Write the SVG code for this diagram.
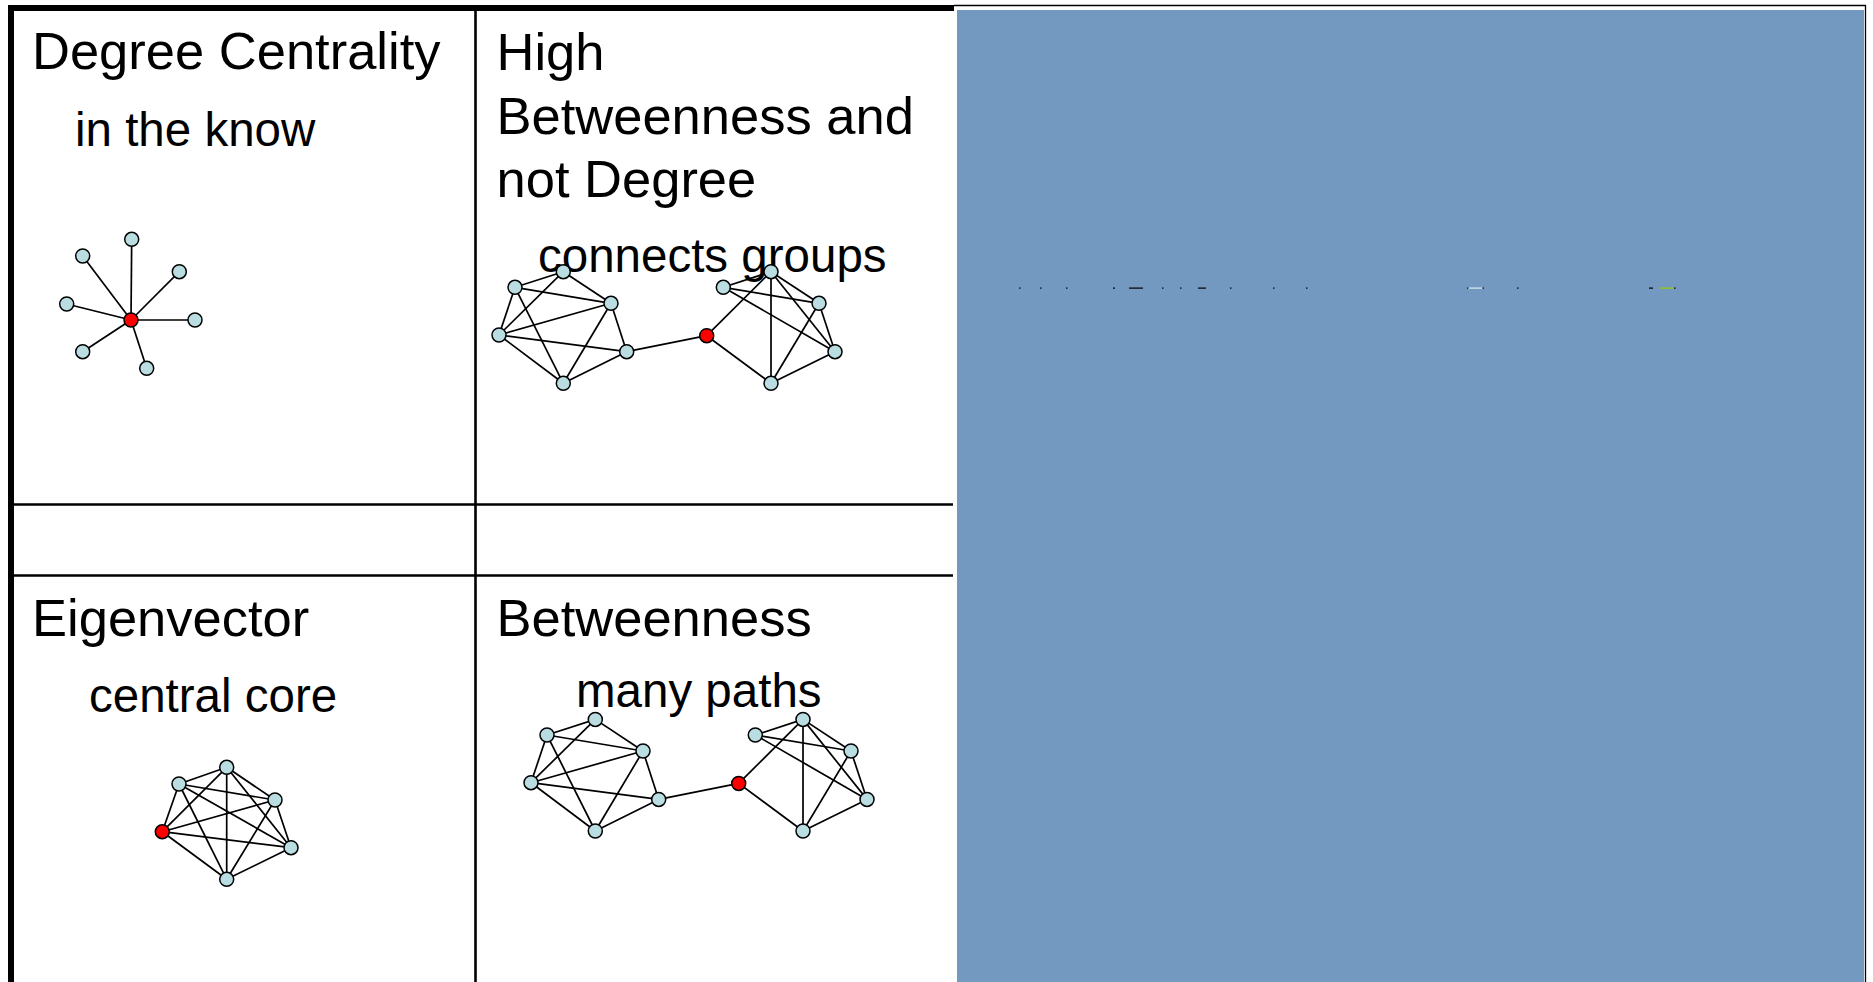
<svg xmlns="http://www.w3.org/2000/svg" xmlns:xlink="http://www.w3.org/1999/xlink" width="1873" height="982" viewBox="0 0 1873 982">
<style>
.t{font-family:"Liberation Sans",Arial,sans-serif;fill:#000}
.h{font-size:52.5px}
.s{font-size:47.5px}
.e{stroke:#000;stroke-width:1.7;fill:none}
.n{fill:#b9dde1;stroke:#000;stroke-width:1.5}
.r{fill:#ff0000;stroke:#000;stroke-width:1.5}
.g{stroke:#000;fill:none}
</style>
<defs>
<g id="twoGroups">
<g class="connectors">
<line class="e" x1="515" y1="287.3" x2="563.3" y2="271.7"/>
<line class="e" x1="515" y1="287.3" x2="611" y2="303.3"/>
<line class="e" x1="563.3" y1="271.7" x2="611" y2="303.3"/>
<line class="e" x1="563.3" y1="271.7" x2="499" y2="335"/>
<line class="e" x1="499" y1="335" x2="611" y2="303.3"/>
<line class="e" x1="515" y1="287.3" x2="499" y2="335"/>
<line class="e" x1="515" y1="287.3" x2="563.3" y2="383.3"/>
<line class="e" x1="499" y1="335" x2="626.7" y2="351.7"/>
<line class="e" x1="499" y1="335" x2="563.3" y2="383.3"/>
<line class="e" x1="611" y1="303.3" x2="563.3" y2="383.3"/>
<line class="e" x1="611" y1="303.3" x2="626.7" y2="351.7"/>
<line class="e" x1="626.7" y1="351.7" x2="563.3" y2="383.3"/>
<line class="e" x1="626.7" y1="351.7" x2="706.7" y2="335.7"/>
<line class="e" x1="706.7" y1="335.7" x2="771" y2="271.7"/>
<line class="e" x1="706.7" y1="335.7" x2="771" y2="383.3"/>
<line class="e" x1="723.3" y1="287.3" x2="771" y2="271.7"/>
<line class="e" x1="723.3" y1="287.3" x2="819" y2="303.3"/>
<line class="e" x1="723.3" y1="287.3" x2="835" y2="351.7"/>
<line class="e" x1="771" y1="271.7" x2="819" y2="303.3"/>
<line class="e" x1="771" y1="271.7" x2="835" y2="351.7"/>
<line class="e" x1="771" y1="271.7" x2="771" y2="383.3"/>
<line class="e" x1="819" y1="303.3" x2="771" y2="383.3"/>
<line class="e" x1="819" y1="303.3" x2="835" y2="351.7"/>
<line class="e" x1="835" y1="351.7" x2="771" y2="383.3"/>
</g>
<circle class="n" cx="563.3" cy="271.7" r="7"/>
<circle class="n" cx="515" cy="287.3" r="7"/>
<circle class="n" cx="611" cy="303.3" r="7"/>
<circle class="n" cx="499" cy="335" r="7"/>
<circle class="n" cx="626.7" cy="351.7" r="7"/>
<circle class="n" cx="563.3" cy="383.3" r="7"/>
<circle class="r" cx="706.7" cy="335.7" r="7"/>
<circle class="n" cx="771" cy="271.7" r="7"/>
<circle class="n" cx="723.3" cy="287.3" r="7"/>
<circle class="n" cx="819" cy="303.3" r="7"/>
<circle class="n" cx="835" cy="351.7" r="7"/>
<circle class="n" cx="771" cy="383.3" r="7"/>
</g>
</defs>

<rect width="1873" height="982" fill="#fff"/>

<!-- table grid -->
<g id="grid">
<line class="g" x1="8" y1="8" x2="954" y2="8" stroke-width="6"/>
<line class="g" x1="11" y1="5" x2="11" y2="982" stroke-width="6"/>
<line class="g" x1="475.5" y1="8" x2="475.5" y2="982" stroke-width="2.6"/>
<line class="g" x1="14" y1="504.5" x2="953" y2="504.5" stroke-width="2.6"/>
<line class="g" x1="14" y1="575.5" x2="953" y2="575.5" stroke-width="2.6"/>
</g>

<!-- right panel -->
<g id="panel">
<polyline points="954,5.5 1865.5,5.5 1865.5,982" fill="none" stroke="#000" stroke-width="1.3"/>
<rect x="957" y="10" width="907" height="972" fill="#7399c0"/>
<g id="fragments" fill="#000">
<rect x="1019" y="287.5" width="1.5" height="1.2"/>
<rect x="1040" y="287.5" width="1.5" height="1.2"/>
<rect x="1066" y="287.5" width="1.5" height="1.2"/>
<rect x="1113" y="287.5" width="2" height="1.2"/>
<rect x="1129" y="287.5" width="14" height="1.2"/>
<rect x="1162" y="287.5" width="1.5" height="1.2"/>
<rect x="1180" y="287.5" width="1.5" height="1.2"/>
<rect x="1198" y="287.5" width="8" height="1.2"/>
<rect x="1230" y="287.5" width="1.5" height="1.2"/>
<rect x="1273" y="287.5" width="1.5" height="1.2"/>
<rect x="1306" y="287.5" width="1.5" height="1.2"/>
<rect x="1467" y="287.5" width="1.5" height="1.2"/>
<rect x="1468.5" y="287.5" width="14" height="1.2" fill="#d8ecef"/>
<rect x="1482.5" y="287.5" width="1.5" height="1.2"/>
<rect x="1517" y="287.5" width="1.5" height="1.2"/>
<rect x="1649" y="287.5" width="4" height="1.2"/>
<rect x="1660" y="287.5" width="14" height="1.2" fill="#99cc00"/>
<rect x="1674" y="287.5" width="1.5" height="1.2"/>
</g>
</g>

<!-- Degree Centrality cell -->
<g id="degree">
<text class="t h" x="32" y="69">Degree Centrality</text>
<text class="t s" x="75" y="146">in the know</text>
<g class="connectors">
<line class="e" x1="131" y1="320" x2="131.7" y2="239.3"/>
<line class="e" x1="131" y1="320" x2="82.7" y2="256"/>
<line class="e" x1="131" y1="320" x2="179.3" y2="271.7"/>
<line class="e" x1="131" y1="320" x2="66.7" y2="304"/>
<line class="e" x1="131" y1="320" x2="195" y2="320"/>
<line class="e" x1="131" y1="320" x2="82.7" y2="351.7"/>
<line class="e" x1="131" y1="320" x2="146.7" y2="368.3"/>
</g>
<circle class="n" cx="131.7" cy="239.3" r="7"/>
<circle class="n" cx="82.7" cy="256" r="7"/>
<circle class="n" cx="179.3" cy="271.7" r="7"/>
<circle class="n" cx="66.7" cy="304" r="7"/>
<circle class="n" cx="195" cy="320" r="7"/>
<circle class="n" cx="82.7" cy="351.7" r="7"/>
<circle class="n" cx="146.7" cy="368.3" r="7"/>
<circle class="r" cx="131" cy="320" r="7"/>
</g>

<!-- High Betweenness cell -->
<g id="highBetweenness">
<text class="t h" x="496.5" y="70">High</text>
<text class="t h" x="496.5" y="133.5">Betweenness and</text>
<text class="t h" x="496.5" y="197">not Degree</text>
<text class="t s" x="538" y="272">connects groups</text>
<use xlink:href="#twoGroups"/>
</g>

<!-- Eigenvector cell -->
<g id="eigenvector">
<text class="t h" x="32" y="636">Eigenvector</text>
<text class="t s" x="89" y="712">central core</text>
<g class="connectors">
<line class="e" x1="179" y1="784" x2="226.7" y2="767.3"/>
<line class="e" x1="179" y1="784" x2="275" y2="800"/>
<line class="e" x1="179" y1="784" x2="162.3" y2="831.7"/>
<line class="e" x1="179" y1="784" x2="291" y2="847.7"/>
<line class="e" x1="179" y1="784" x2="226.7" y2="879.3"/>
<line class="e" x1="226.7" y1="767.3" x2="275" y2="800"/>
<line class="e" x1="226.7" y1="767.3" x2="162.3" y2="831.7"/>
<line class="e" x1="226.7" y1="767.3" x2="291" y2="847.7"/>
<line class="e" x1="226.7" y1="767.3" x2="226.7" y2="879.3"/>
<line class="e" x1="275" y1="800" x2="162.3" y2="831.7"/>
<line class="e" x1="275" y1="800" x2="291" y2="847.7"/>
<line class="e" x1="275" y1="800" x2="226.7" y2="879.3"/>
<line class="e" x1="162.3" y1="831.7" x2="291" y2="847.7"/>
<line class="e" x1="162.3" y1="831.7" x2="226.7" y2="879.3"/>
<line class="e" x1="291" y1="847.7" x2="226.7" y2="879.3"/>
</g>
<circle class="n" cx="179" cy="784" r="7"/>
<circle class="n" cx="226.7" cy="767.3" r="7"/>
<circle class="n" cx="275" cy="800" r="7"/>
<circle class="n" cx="291" cy="847.7" r="7"/>
<circle class="n" cx="226.7" cy="879.3" r="7"/>
<circle class="r" cx="162.3" cy="831.7" r="7"/>
</g>

<!-- Betweenness cell -->
<g id="betweenness">
<text class="t h" x="496.5" y="636">Betweenness</text>
<text class="t s" x="576" y="707">many paths</text>
<use xlink:href="#twoGroups" transform="translate(32,447.7)"/>
</g>
</svg>
